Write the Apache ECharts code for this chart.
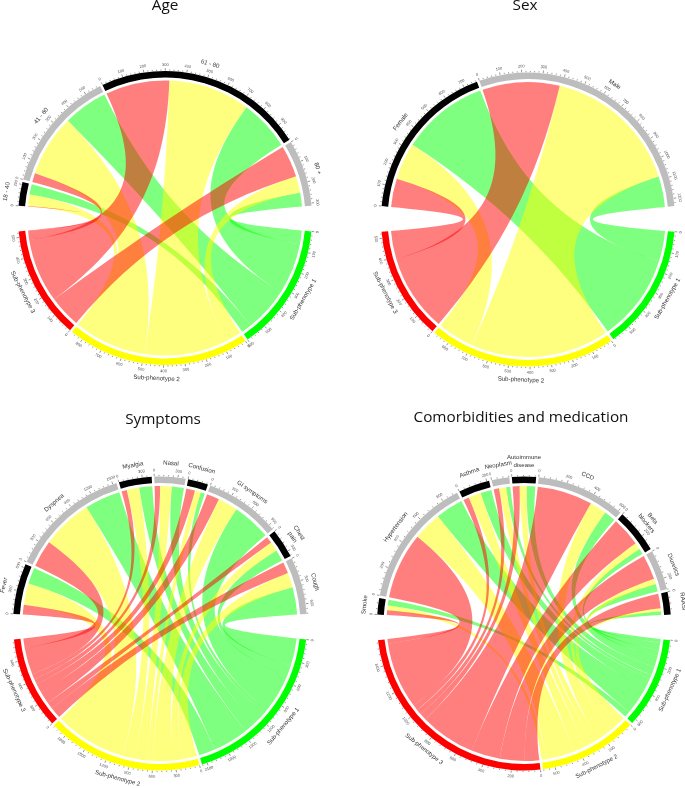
<!DOCTYPE html>
<html><head><meta charset="utf-8">
<style>html,body{margin:0;padding:0;background:#fff}#c{width:685px;height:788px}</style>
<script src="https://cdn.jsdelivr.net/npm/echarts@6/dist/echarts.min.js"></script>
</head><body><div id="c"></div>
<script>
// ---------- data ----------
const phenotypes = ['Sub-phenotype 1', 'Sub-phenotype 2', 'Sub-phenotype 3'];

const ageNames   = ['18 - 40', '41 - 60', '61 - 80', '80 +'];
const ageRed     = [3, 45, 320, 160];
const ageYellow  = [57, 309, 410, 83];
const ageGreen   = [52, 223, 255, 70];

const sexNames   = ['Female', 'Male'];
const sexRed     = [143, 388];
const sexYellow  = [185, 694];
const sexGreen   = [437, 154];

const symptomNames  = ['Fever', 'Dyspnea', 'Myalgia', 'Nasal', 'Confusion', 'GI symptoms', 'Chest\npain', 'Cough'];
const symptomRed    = [133, 367, 71, 74, 119, 172, 90, 155];
const symptomYellow = [291, 695, 171, 158, 81, 270, 129, 199];
const symptomGreen  = [223, 487, 177, 165, 58, 529, 155, 374];

const comorbNames  = ['Smoke', 'Hypertension', 'Asthma', 'Neoplasm', 'Autoimmune\ndisease', 'CCD', 'Beta\nblockers', 'Diuretics', 'RAASi'];
const comorbRed    = [35, 495, 42, 40, 51, 410, 216, 184, 107];
const comorbYellow = [35, 212, 93, 53, 53, 125, 51, 40, 23];
const comorbGreen  = [44, 205, 82, 30, 63, 84, 42, 56, 28];

const panels = [
  {title: 'Age', tx: 160, ty: 1, cx: 165, cy: 218, names: ageNames, red: ageRed, yellow: ageYellow, green: ageGreen, major: 100},
  {title: 'Sex', tx: 520, ty: 1, cx: 528, cy: 219.5, names: sexNames, red: sexRed, yellow: sexYellow, green: sexGreen, major: 100},
  {title: 'Symptoms', tx: 158, ty: 415, cx: 160, cy: 623.5, names: symptomNames, red: symptomRed, yellow: symptomYellow, green: symptomGreen, major: 300},
  {title: 'Comorbidities and medication', tx: 516, ty: 413, cx: 524, cy: 623.5, names: comorbNames, red: comorbRed, yellow: comorbYellow, green: comorbGreen, major: 200}
];

// ---------- styling ----------
const R = 147, RING = 140.4, LINK = 138;
const SUB_COLORS = ['#00ff00', '#ffff00', '#ff0000'];
const PAD = 1, BIG_GAP = 10;
const sum = a => a.reduce((s, v) => s + v, 0);

const option = {animation: false, backgroundColor: '#fff', title: [], polar: [], angleAxis: [], radiusAxis: [], series: []};

panels.forEach((p, pi) => {
  const nt = p.names.length;
  const topTotals = p.names.map((_, i) => p.red[i] + p.yellow[i] + p.green[i]);
  const subTotals = [sum(p.green), sum(p.yellow), sum(p.red)];
  const S = sum(topTotals);
  const unit = (360 - 2 * BIG_GAP - (nt + 1) * PAD) / (2 * S);   // degrees per patient
  const topSpan = S * unit + (nt - 1) * PAD;
  const startAngle = 90 + topSpan / 2;
  const gapValue = (BIG_GAP - 2 * PAD) / unit;
  const padValue = PAD / unit;

  // node list with two invisible spacer nodes for the wide gaps at 3 and 9 o'clock
  const nodes = [];
  p.names.forEach((n, i) => nodes.push({name: n, value: topTotals[i], color: i % 2 === 0 ? '#000' : '#bdbdbd', label: n}));
  nodes.push({name: '_gapR', value: gapValue, color: 'transparent'});
  phenotypes.forEach((n, i) => nodes.push({name: n, value: subTotals[i], color: SUB_COLORS[i], label: n}));
  nodes.push({name: '_gapL', value: gapValue, color: 'transparent'});

  // Links: top sectors last to first, each red -> yellow -> green
  const linkRows = [];
  for (let i = nt - 1; i >= 0; i--) {
    linkRows.push({source: p.names[i], target: phenotypes[2], value: p.red[i], k: 2});
    linkRows.push({source: p.names[i], target: phenotypes[1], value: p.yellow[i], k: 1});
    linkRows.push({source: p.names[i], target: phenotypes[0], value: p.green[i], k: 0});
  }

  const chordBase = {
    type: 'chord', silent: true, center: [p.cx, p.cy], startAngle: startAngle, clockwise: true,
    padAngle: PAD, minAngle: 0, label: {show: false}, emphasis: {disabled: true}
  };

  // three link layers (green, yellow, red on top), same layout; links take the colour of their target
  [0, 1, 2].forEach(layer => {
    option.series.push(Object.assign({}, chordBase, {
      radius: [LINK - 0.5, LINK],
      data: nodes.map(n => ({name: n.name, value: n.value, itemStyle: {color: n.color, opacity: 0, borderRadius: 0}})),
      links: linkRows.map(l => ({
        source: l.source, target: l.target, value: l.value,
        lineStyle: {color: 'target', opacity: l.k === layer ? 0.5 : 0, width: 0}
      }))
    }));
  });
  // outer ring
  option.series.push(Object.assign({}, chordBase, {
    radius: [RING, R],
    data: nodes.map(n => ({name: n.name, value: n.value, itemStyle: {color: n.color, borderRadius: 0, borderWidth: 0}})),
    links: linkRows.map(l => ({source: l.source, target: l.target, value: l.value, lineStyle: {opacity: 0, width: 0}}))
  }));

  // polar system with the same scale as the chord, for ticks and names
  const total = nodes.reduce((s, n) => s + n.value + padValue, 0);
  option.polar.push({center: [p.cx, p.cy], radius: 200});
  option.angleAxis.push({polarIndex: pi, type: 'value', min: 0, max: total, startAngle: startAngle, clockwise: true, show: false});
  option.radiusAxis.push({polarIndex: pi, type: 'value', min: 0, max: 200, show: false});

  const tickRows = [], nameRows = [], nameTexts = [];
  let cursor = 0;
  nodes.forEach(n => {
    if (n.label) {
      const minor = p.major / 5;
      for (let k = 0; k * minor <= n.value + 1e-6; k++) {
        const v = k * minor, isMajor = k % 5 === 0;
        tickRows.push([R, cursor + v, isMajor ? 2.5 : 1.3, isMajor ? v : -1]);
      }
      nameRows.push([n.label.indexOf('\n') >= 0 ? R + 15 : R + 13.5, cursor + n.value / 2]);
      nameTexts.push(n.label);
    }
    cursor += n.value + padValue;
  });

  const rotOf = (pt) => {
    const dx = pt[0] - p.cx, dy = pt[1] - p.cy;
    const th = Math.atan2(dx, -dy);
    return dy <= 0 ? -th : Math.PI - th;
  };

  option.series.push({
    type: 'custom', coordinateSystem: 'polar', polarIndex: pi, silent: true, data: tickRows,
    renderItem: (params, api) => {
      const r = api.value(0), pos = api.value(1), len = api.value(2), lab = api.value(3);
      const a = api.coord([r + 0.3, pos]), b = api.coord([r + 0.3 + len, pos]);
      const children = [{type: 'line', shape: {x1: a[0], y1: a[1], x2: b[0], y2: b[1]}, style: {stroke: '#333', lineWidth: 0.5}}];
      if (lab >= 0) {
        const t = api.coord([r + 6.2, pos]);
        children.push({type: 'text', x: t[0], y: t[1], rotation: rotOf(t),
          style: {text: String(lab), fill: '#555', font: '4px "Liberation Sans"', align: 'center', verticalAlign: 'middle'}});
      }
      return {type: 'group', children};
    }
  });
  option.series.push({
    type: 'custom', coordinateSystem: 'polar', polarIndex: pi, silent: true, data: nameRows,
    renderItem: (params, api) => {
      const t = api.coord([api.value(0), api.value(1)]);
      return {type: 'text', x: t[0], y: t[1], rotation: rotOf(t),
        style: {text: nameTexts[params.dataIndex], fill: '#333', font: '6.1px "Liberation Sans"', align: 'center', verticalAlign: 'middle', lineHeight: 8}};
    }
  });

  option.title.push({text: p.title, left: p.tx, top: p.ty, textAlign: 'center', textVerticalAlign: 'middle',
    textStyle: {fontFamily: '"Open Sans"', fontSize: 15.3, fontWeight: 'normal', color: '#111'}});
});

const chart = echarts.init(document.getElementById('c'), null, {renderer: 'canvas'});
chart.setOption(option);
</script></body></html>
